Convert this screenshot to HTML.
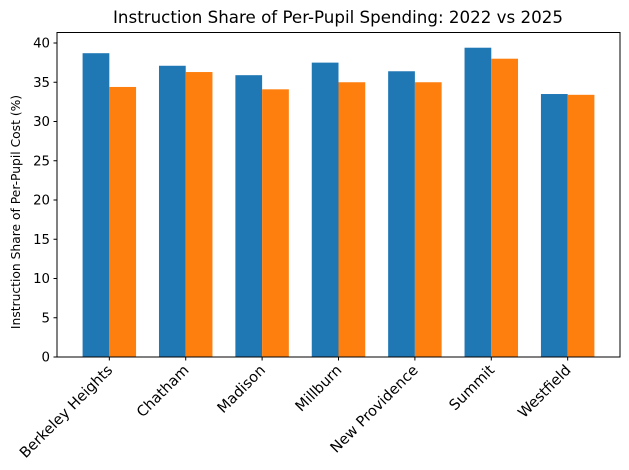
<!DOCTYPE html>
<html><head><meta charset="utf-8"><style>body{margin:0;background:#fff}svg{display:block}text{font-family:"DejaVu Sans","Liberation Sans",sans-serif;fill:#000}</style></head>
<body>
<svg width="629" height="470" xmlns="http://www.w3.org/2000/svg">
<g id="bars"></g>
<text x="338" y="23" font-size="16.7" text-anchor="middle">Instruction Share of Per-Pupil Spending: 2022 vs 2025</text>
<text transform="translate(20,212) rotate(-90)" font-size="12.3" text-anchor="middle">Instruction Share of Per-Pupil Cost (%)</text>
<g id="ax"></g>
</svg>
<script>
const L=57,R=620,T=32.5,B=357,u=(R-L)/7.37,sy=(357-43)/40;
const names=["Berkeley Heights","Chatham","Madison","Millburn","New Providence","Summit","Westfield"];
const a=[38.7,37.1,35.9,37.5,36.4,39.4,33.5],b=[34.4,36.3,34.1,35.0,35.0,38.0,33.4];
let h="";
names.forEach((n,i)=>{const c=L+(0.685+i)*u,w=0.35*u;
h+=`<rect x="${c-w}" y="${B-a[i]*sy}" width="${w}" height="${a[i]*sy}" fill="#1f77b4"/>`;
h+=`<rect x="${c}" y="${B-b[i]*sy}" width="${w}" height="${b[i]*sy}" fill="#ff7f0e"/>`;});
document.getElementById("bars").innerHTML=h;
let g=`<rect x="${L}" y="${T}" width="${R-L}" height="${B-T}" fill="none" stroke="#000" stroke-width="1"/>`;
for(let v=0;v<=40;v+=5){const y=B-v*sy;g+=`<line x1="${L-3.5}" x2="${L}" y1="${y}" y2="${y}" stroke="#000"/><text x="${L-7}" y="${y+4.5}" font-size="13.3" text-anchor="end">${v}</text>`;}
names.forEach((n,i)=>{const c=L+(0.685+i)*u;g+=`<line x1="${c}" x2="${c}" y1="${B}" y2="${B+3.5}" stroke="#000"/><text transform="translate(${c+4},${B+14}) rotate(-45)" font-size="14.6" text-anchor="end">${n}</text>`;});
document.getElementById("ax").innerHTML=g;
</script>
</body></html>
